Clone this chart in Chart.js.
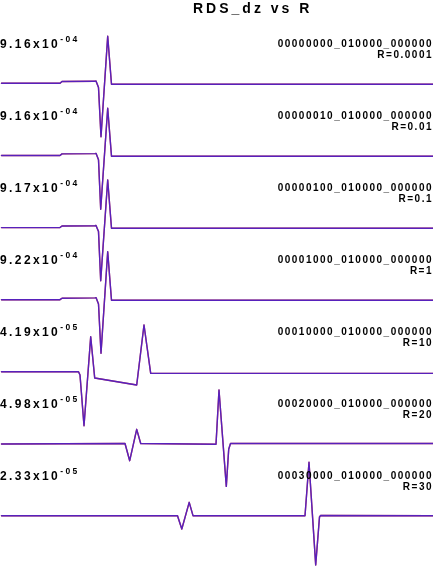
<!DOCTYPE html>
<html>
<head>
<meta charset="utf-8">
<script src="https://cdn.jsdelivr.net/npm/chart.js@4/dist/chart.umd.min.js"></script>
<style>
  html, body { margin: 0; padding: 0; background: #ffffff; }
  #wrap { width: 433px; height: 566px; position: relative; }
</style>
</head>
<body>
<div id="wrap"><canvas id="c" width="433" height="566"></canvas></div>
<script>
// ---------- data ----------
const chartTitle = 'RDS_dz vs R';
const traceNames = [
  '00000000_010000_000000',
  '00000010_010000_000000',
  '00000100_010000_000000',
  '00001000_010000_000000',
  '00010000_010000_000000',
  '00020000_010000_000000',
  '00030000_010000_000000'
];
const rValues = ['0.0001', '0.01', '0.1', '1', '10', '20', '30'];
const peakMantissa = ['9.16', '9.16', '9.17', '9.22', '4.19', '4.98', '2.33'];
const peakExponent = ['-04', '-04', '-04', '-04', '-05', '-05', '-05'];

// normalized amplitude (value / trace peak) versus sample position
const t_R0001  = [1.5, 60, 62, 95, 96, 98.5, 101, 107.7, 111.5, 433];
const a_R0001  = [0.013, 0.013, 0.047, 0.051, 0.057, -0.066, -0.994, 0.90, -0.004, -0.006];
const t_R001   = [1.5, 60, 62, 95, 96, 98.5, 100.7, 107.7, 111.5, 433];
const a_R001   = [0.010, 0.010, 0.040, 0.045, 0.050, -0.070, -1.006, 0.90, -0.006, -0.006];
const t_R01    = [1.5, 60, 62, 95, 96, 98.5, 100.7, 107.7, 111.5, 433];
const a_R01    = [0.008, 0.008, 0.038, 0.042, 0.048, -0.068, -0.994, 0.906, -0.004, -0.004];
const t_R1     = [1.5, 60, 62, 95, 96, 98.5, 101, 107.7, 111.5, 433];
const a_R1     = [0.006, 0.006, 0.034, 0.040, 0.045, -0.075, -1.006, 0.911, -0.006, -0.006];
const t_R10    = [1.5, 78.5, 80, 84, 90.7, 94.7, 136.7, 144, 150.7, 433];
const a_R10    = [0.006, 0.006, -0.057, -1.013, 0.666, -0.113, -0.245, 0.887, -0.025, -0.025];
const t_R20    = [1.5, 125, 129.7, 136.7, 140.7, 216, 219, 226.3, 228.7, 230.5, 433];
const a_R20    = [0.0, 0.009, -0.315, 0.277, 0.009, -0.006, 1.019, -0.80, -0.10, 0.009, 0.009];
const t_R30    = [1.5, 177.5, 181.8, 189.2, 193, 305, 309, 315.7, 319.5, 320.5, 433];
const a_R30    = [0.006, 0.006, -0.245, 0.258, 0.006, 0.006, 1.013, -0.925, -0.019, 0.009, 0.006];

const traceTimes = [t_R0001, t_R001, t_R01, t_R1, t_R10, t_R20, t_R30];
const traceAmps  = [a_R0001, a_R001, a_R01, a_R1, a_R10, a_R20, a_R30];

// ---------- layout ----------
const SPACING = 72 / 53;        // vertical distance between traces, in amplitude units
const Y_MAX = 84 / 53;
const Y_MIN = -(566 - 84) / 53;

const datasets = [];
traceTimes.forEach((ts, k) => {
  const pts = ts.map((t, i) => ({ x: t, y: traceAmps[k][i] - k * SPACING }));
  datasets.push({
    label: traceNames[k] + ' ref',
    data: pts,
    borderColor: '#d01010',
    borderWidth: 1.4,
    pointRadius: 0,
    tension: 0,
    order: 2
  });
  datasets.push({
    label: traceNames[k],
    data: pts.map(p => ({ x: p.x, y: p.y })),
    borderColor: 'rgba(40,40,255,0.72)',
    borderWidth: 1.4,
    pointRadius: 0,
    tension: 0,
    order: 1
  });
});

const FONT = "'Liberation Sans', Arial, Helvetica, sans-serif";

const labelPlugin = {
  id: 'traceLabels',
  afterDraw(chart) {
    const ctx = chart.ctx;
    const ys = chart.scales.y;
    ctx.save();
    ctx.fillStyle = '#000000';
    ctx.textBaseline = 'alphabetic';

    // title
    ctx.font = 'bold 14px ' + FONT;
    ctx.letterSpacing = '3px';
    ctx.textAlign = 'left';
    ctx.fillText(chartTitle, 193, 13);

    traceNames.forEach((name, k) => {
      const base = ys.getPixelForValue(-k * SPACING);

      // left: peak value with superscript exponent
      ctx.textAlign = 'left';
      ctx.font = 'bold 12px ' + FONT;
      ctx.letterSpacing = '2.4px';
      const mant = peakMantissa[k] + 'x10';
      ctx.fillText(mant, 0, base - 36.5);
      const w = ctx.measureText(mant).width;
      ctx.font = 'bold 8.5px ' + FONT;
      ctx.letterSpacing = '2.4px';
      ctx.fillText(peakExponent[k], w, base - 42);

      // right: trace name and R value
      ctx.textAlign = 'right';
      ctx.font = 'bold 10px ' + FONT;
      ctx.letterSpacing = '1.5px';
      ctx.fillText(name, 433, base - 37.5);
      ctx.fillText('R=' + rValues[k], 433, base - 26.5);
    });
    ctx.restore();
  }
};

new Chart(document.getElementById('c'), {
  type: 'line',
  data: { datasets },
  options: {
    responsive: false,
    animation: false,
    layout: { padding: 0 },
    plugins: { legend: { display: false }, tooltip: { enabled: false }, title: { display: false } },
    scales: {
      x: { type: 'linear', min: 0, max: 433, display: false },
      y: { type: 'linear', min: Y_MIN, max: Y_MAX, display: false }
    },
    elements: { line: { borderCapStyle: 'round', borderJoinStyle: 'round' } }
  },
  plugins: [labelPlugin]
});
</script>
</body>
</html>
